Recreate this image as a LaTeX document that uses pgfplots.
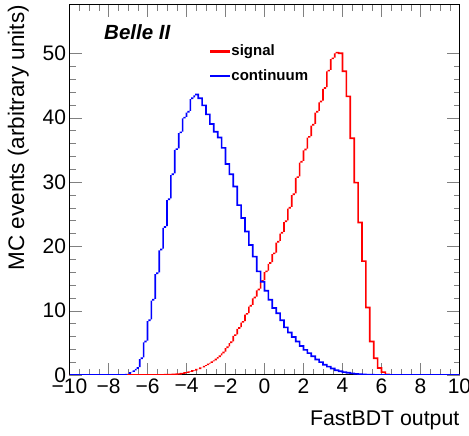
\documentclass[border=0pt]{standalone}
\usepackage{fontspec}
\setmainfont{Liberation Sans}
\usepackage{pgfplots}
\pgfplotsset{compat=1.18}
\usepgfplotslibrary{fillbetween}
\usepackage{pgfplotstable}
\definecolor{hred}{RGB}{255,0,0}
\definecolor{hblue}{RGB}{0,0,255}
\pgfplotstableread{
x sig cont
-10.0 0 0
-9.8 0 0
-9.6 0 0
-9.4 0 0
-9.2 0 0
-9.0 0 0
-8.8 0 0
-8.6 0 0
-8.4 0 0
-8.2 0 0
-8.0 0 0
-7.8 0 0
-7.6 0 0
-7.4 0 0
-7.2 0 0.05
-7.0 0 0.3
-6.8 0 0.6
-6.6 0 1.1
-6.4 0 2.6
-6.2 0.01 5.2
-6.0 0.01 8.5
-5.8 0.01 11.7
-5.6 0.02 15.8
-5.4 0.02 19.5
-5.2 0.03 23.0
-5.0 0.05 27.3
-4.8 0.08 31.2
-4.6 0.13 35.1
-4.4 0.2 37.7
-4.2 0.3 40.0
-4.0 0.45 40.9
-3.8 0.62 43.0
-3.6 0.82 43.6
-3.4 1.05 43.0
-3.2 1.3 41.9
-3.0 1.65 40.5
-2.8 2.0 39.0
-2.6 2.4 37.8
-2.4 2.9 36.9
-2.2 3.5 35.3
-2.0 4.3 32.8
-1.8 5.1 31.2
-1.6 6.2 29.3
-1.4 7.3 26.4
-1.2 8.25 24.4
-1.0 9.5 22.3
-0.8 10.75 20.2
-0.6 12.05 18.4
-0.4 13.3 16.1
-0.2 14.6 14.5
0.0 16.1 13.1
0.2 17.4 11.7
0.4 18.9 10.4
0.6 20.7 9.6
0.8 22.1 8.5
1.0 23.9 7.4
1.2 26.0 6.6
1.4 28.1 5.9
1.6 30.75 5.2
1.8 33.15 4.5
2.0 35.05 3.9
2.2 37.0 3.4
2.4 38.9 2.9
2.6 40.9 2.4
2.8 42.5 2.0
3.0 44.6 1.6
3.2 47.3 1.3
3.4 49.2 1.0
3.6 50.1 0.75
3.8 50.0 0.58
4.0 47.2 0.45
4.2 43.3 0.34
4.4 36.8 0.25
4.6 29.9 0.18
4.8 23.7 0.13
5.0 17.7 0.09
5.2 10.5 0.06
5.4 5.2 0.04
5.6 2.6 0.02
5.8 1.1 0.01
6.0 0.45 0
6.2 0.1 0
6.4 0 0
6.6 0 0
6.8 0 0
7.0 0 0
7.2 0 0
7.4 0 0
7.6 0 0
7.8 0 0
8.0 0 0
8.2 0 0
8.4 0 0
8.6 0 0
8.8 0 0
9.0 0 0
9.2 0 0
9.4 0 0
9.6 0 0
9.8 0 0
10.0 0 0
}\hist

\begin{document}
\begin{tikzpicture}
\begin{axis}[
  name=ax,
  scale only axis, width=390pt, height=370pt,
  xmin=-10, xmax=10, ymin=0, ymax=57.5,
  axis line style={line width=1pt},
  tick align=inside,
  xtick={-10,-8,...,10},
  xticklabels={−10,−8,−6,−4,−2,0,2,4,6,8,10},
  ytick={0,10,...,50},
  yticklabels={0,10,20,30,40,50},
  minor x tick num=3, minor y tick num=4,
  major tick length=12pt, minor tick length=6pt,
  ticklabel style={font=\fontsize{21}{24}\selectfont},
  xlabel={FastBDT output},
  ylabel={MC events (arbitrary units)},
  xlabel style={font=\fontsize{21.3}{24}\selectfont, at={(axis description cs:1,0)}, anchor=north east, yshift=-36pt, inner sep=0pt},
  ylabel style={font=\fontsize{22.5}{24}\selectfont, at={(axis description cs:-0.104,1)}, anchor=south east, inner sep=0pt},
  legend style={at={(axis description cs:0.3603,0.897)}, anchor=north west,
    draw=none, fill=none, inner sep=0pt, outer sep=0pt,
    font=\bfseries\fontsize{15}{18}\selectfont, row sep=8pt,
    nodes={inner sep=2pt}},
  legend cell align=left,
  legend image code/.code={\fill[#1] (0pt,-0.75pt) rectangle (19pt,0.75pt);},
]
\addlegendimage{color=hred, fill=hred}
\addlegendentry{signal}
\addlegendimage{color=hblue, fill=hblue}
\addlegendentry{continuum}
% signal histogram (drawn as a thin filled band along its outline)
\addplot[name path=sigA, draw=none, forget plot, const plot mark left]
  table[x expr=\thisrow{x}-0.043, y expr=\thisrow{sig}-0.13]{\hist};
\addplot[name path=sigB, draw=none, forget plot, const plot mark left]
  table[x expr=\thisrow{x}+0.043, y expr=\thisrow{sig}+0.13]{\hist};
\addplot[fill=hred, draw=none, forget plot] fill between[of=sigA and sigB];
% continuum histogram
\addplot[name path=conA, draw=none, forget plot, const plot mark left]
  table[x expr=\thisrow{x}-0.043, y expr=\thisrow{cont}-0.13]{\hist};
\addplot[name path=conB, draw=none, forget plot, const plot mark left]
  table[x expr=\thisrow{x}+0.043, y expr=\thisrow{cont}+0.13]{\hist};
\addplot[fill=hblue, draw=none, forget plot] fill between[of=conA and conB];
\node[anchor=base west, inner sep=0pt, font=\bfseries\itshape\fontsize{20.5}{24}\selectfont]
  at (axis description cs:0.0885,0.908) {Belle II};
\end{axis}
\pgfresetboundingbox
\path[use as bounding box] (ax.south west) ++(-69.5pt,-61pt) rectangle ++(469pt,436pt);
\end{tikzpicture}
\end{document}
